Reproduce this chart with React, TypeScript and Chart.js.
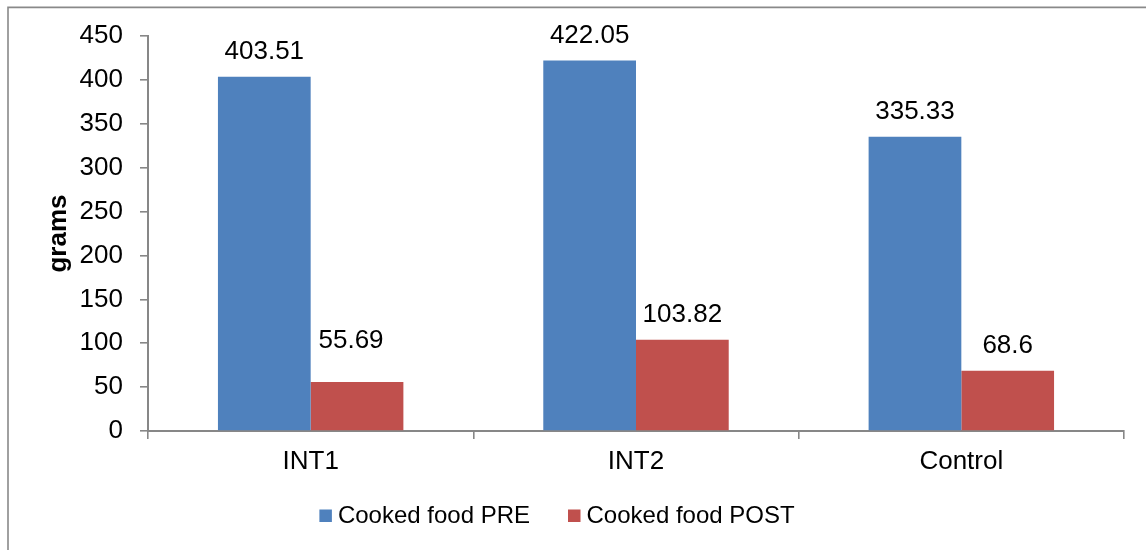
import React, { useEffect, useRef } from "react";
import { Chart, registerables } from "chart.js";

Chart.register(...registerables);

const categories = ["INT1", "INT2", "Control"];
const preValues = [403.51, 422.05, 335.33];
const postValues = [55.69, 103.82, 68.6];
const seriesLabels = ["Cooked food PRE", "Cooked food POST"];
const seriesColors = ["#4F81BD", "#C0504D"];
const yTitle = "grams";

const FONT = "'Liberation Sans', Arial, sans-serif";
const AXIS_COLOR = "#878787";

const framePlugin = {
  id: "frame",
  beforeDraw(chart: any) {
    const ctx = chart.ctx;
    ctx.save();
    ctx.strokeStyle = "#898989";
    ctx.lineWidth = 1.6;
    ctx.beginPath();
    ctx.moveTo(8, 552);
    ctx.lineTo(8, 7.4);
    ctx.lineTo(1148, 7.4);
    ctx.stroke();
    ctx.restore();
  },
};

const valueLabelPlugin = {
  id: "valueLabels",
  afterDatasetsDraw(chart: any) {
    const ctx = chart.ctx;
    ctx.save();
    ctx.font = `26px ${FONT}`;
    ctx.fillStyle = "#000";
    ctx.textAlign = "center";
    ctx.textBaseline = "alphabetic";
    chart.data.datasets.forEach((ds: any, di: number) => {
      const meta = chart.getDatasetMeta(di);
      meta.data.forEach((bar: any, i: number) => {
        let dx = 0;
        let dy = 0;
        // the first POST label sits higher in the reference
        if (di === 1 && i === 0) {
          dx = -6;
          dy = -17;
        }
        ctx.fillText(String(ds.data[i]), bar.x + dx, bar.y - 17.5 + dy);
      });
    });
    ctx.restore();
  },
};

const legendPlugin = {
  id: "customLegend",
  afterDraw(chart: any) {
    const ctx = chart.ctx;
    ctx.save();
    ctx.font = `24px ${FONT}`;
    ctx.textBaseline = "alphabetic";
    ctx.textAlign = "left";
    const box = 12.5;
    const gapBoxText = 6;
    const gapItems = 38;
    const items = chart.data.datasets.map((ds: any) => ({
      label: ds.label,
      color: ds.backgroundColor,
      w: box + gapBoxText + ctx.measureText(ds.label).width,
    }));
    const total = items.reduce((s: number, it: any) => s + it.w, 0) + gapItems * (items.length - 1);
    let x = 557 - total / 2;
    const baseline = 523.3;
    items.forEach((it: any) => {
      ctx.fillStyle = it.color;
      ctx.fillRect(x, 509.5, box, box);
      ctx.fillStyle = "#000";
      ctx.fillText(it.label, x + box + gapBoxText, baseline);
      x += it.w + gapItems;
    });
    ctx.restore();
  },
};

export default function App() {
  const canvasRef = useRef<HTMLCanvasElement | null>(null);

  useEffect(() => {
    const canvas = canvasRef.current;
    if (!canvas) return;
    const chart = new Chart(canvas, {
      type: "bar",
      data: {
        labels: categories,
        datasets: [
          {
            label: seriesLabels[0],
            data: preValues,
            backgroundColor: seriesColors[0],
            borderWidth: 0,
            categoryPercentage: 0.57,
            barPercentage: 1,
          },
          {
            label: seriesLabels[1],
            data: postValues,
            backgroundColor: seriesColors[1],
            borderWidth: 0,
            categoryPercentage: 0.57,
            barPercentage: 1,
          },
        ],
      },
      options: {
        responsive: false,
        animation: false,
        devicePixelRatio: 1,
        layout: { padding: { left: 0, top: 36, right: 22, bottom: 69 } },
        plugins: {
          legend: { display: false },
          tooltip: { enabled: false },
          title: { display: false },
        },
        scales: {
          x: {
            afterFit: (s: any) => {
              s.height = 50;
            },
            grid: {
              offset: true,
              drawOnChartArea: false,
              drawTicks: true,
              tickLength: 8,
              color: AXIS_COLOR,
              lineWidth: 1.6,
            },
            border: { display: true, color: AXIS_COLOR, width: 2 },
            ticks: {
              color: "#000",
              padding: 7,
              font: { family: FONT, size: 26 },
              maxRotation: 0,
            },
          },
          y: {
            min: 0,
            max: 450,
            afterFit: (s: any) => {
              s.width = 148;
            },
            grid: {
              drawOnChartArea: false,
              drawTicks: true,
              tickLength: 8,
              color: AXIS_COLOR,
              lineWidth: 1.6,
            },
            border: { display: true, color: AXIS_COLOR, width: 2 },
            ticks: {
              stepSize: 50,
              color: "#000",
              padding: 17,
              font: { family: FONT, size: 26 },
            },
            title: {
              display: true,
              text: yTitle,
              color: "#000",
              font: { family: FONT, size: 26, weight: "bold" },
              padding: { top: 43, bottom: 0 },
            },
          },
        },
      },
      plugins: [framePlugin, valueLabelPlugin, legendPlugin],
    } as any);
    return () => chart.destroy();
  }, []);

  return (
    <div style={{ position: "fixed", left: 0, top: 0, width: 1146, height: 550, background: "#fff" }}>
      <canvas ref={canvasRef} width={1146} height={550} style={{ display: "block", width: 1146, height: 550 }} />
    </div>
  );
}
